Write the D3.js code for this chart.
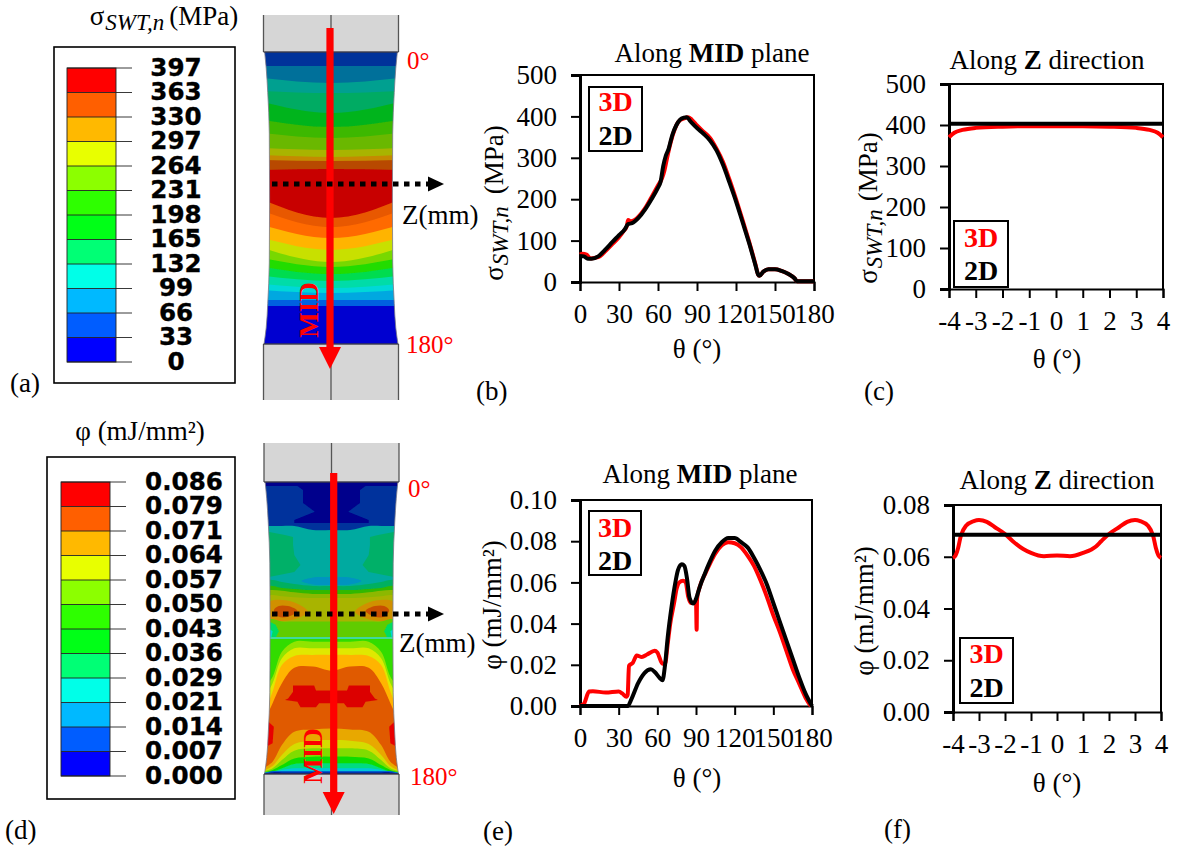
<!DOCTYPE html>
<html><head><meta charset="utf-8">
<script src="https://cdn.jsdelivr.net/npm/d3@7"></script>
<style>html,body{margin:0;padding:0;background:#fff}svg{display:block}text{font-family:"Liberation Serif",serif}</style>
</head><body><div id="c"></div>
<script>
// ---------- curve data ----------
const midSigma3Dx=[0,2,5,8,14,20,25,30,34,36,37,39,42,45,50,55,60,63,65,67,70,73,76,80,83,86,90,95,100,105,110,115,120,125,130,135,137,138,141,145,150,155,160,165,167,170,180];
const midSigma3Dy=[66,68,66,57,60,76,92,108,125,135,150,147,150,158,178,205,233,250,270,300,340,370,388,395,398,392,378,363,348,322,290,247,200,150,98,42,18,15,25,31,31,27,20,9,2,2,2];
const midSigma2Dx=[0,3,6,9,14,20,25,30,35,36,37,40,45,50,55,60,62,64,66,68,71,74,77,80,82,85,90,95,100,105,110,115,120,125,130,135,137,138,141,145,150,155,160,165,167,170,180];
const midSigma2Dy=[63,62,56,56,62,80,97,113,130,136,140,142,155,175,200,228,242,280,305,320,355,378,392,397,398,388,372,358,342,318,283,240,195,145,95,40,18,15,25,31,31,27,20,9,2,2,2];
const zSigmaX=[-4,-3.8,-3.5,-3,-2,-1,0,1,2,3,3.5,3.8,4];
const zSigma3D=[370,381,388,393,396,397,397,397,396,393,388,381,370];
const zSigma2D=[403,403,403,403,403,403,403,403,403,403,403,403,403];
const midPhi3Dx=[0,3,7,10,20,30,33,36,37,38,41,44,48,52,58,60,64,66,68,70,73,75,77,80,82,84,86,88,90,90.5,90.8,93,97,100,105,110,115,120,125,130,135,140,145,150,155,160,165,170,175,179];
const midPhi3Dy=[0,.001,.007,.0072,.0065,.007,.006,.0045,.0055,.0195,.021,.0245,.0238,.025,.0268,.026,.0205,.0205,.03,.04,.05,.057,.06,.0608,.06,.053,.05,.05,.051,.037,.052,.058,.064,.068,.074,.078,.0795,.079,.077,.073,.068,.061,.053,.044,.036,.027,.018,.011,.004,0];
const midPhi2Dx=[0,35,37,40,45,50,55,58,62,64,66,68,71,74,76,79,81,83,85,88,90,93,97,100,105,110,115,120,125,130,135,140,145,150,155,160,165,170,175,180];
const midPhi2Dy=[0,0,0,.0035,.011,.016,.0178,.0165,.0135,.0125,.02,.033,.048,.06,.066,.0688,.068,.062,.0525,.0497,.052,.058,.0645,.069,.0755,.0795,.0815,.0815,.0795,.077,.072,.066,.059,.05,.041,.032,.023,.014,.006,0];
const zPhiX=[-4,-3.9,-3.8,-3.7,-3.5,-3.2,-3,-2.7,-2.4,-2,-1.7,-1.3,-1,-.5,0,.5,1,1.5,1.7,2,2.4,2.7,3,3.2,3.5,3.7,3.8,3.9,4];
const zPhi3D=[.0595,.0605,.0635,.068,.072,.0738,.0742,.0735,.0715,.0688,.066,.063,.0615,.0602,.0605,.0602,.0615,.064,.066,.0688,.0715,.0735,.0742,.0738,.072,.068,.0635,.0605,.0595];
const zPhi2D=[.0685,.0685,.0685,.0685,.0685,.0685,.0685,.0685,.0685,.0685,.0685,.0685,.0685,.0685,.0685,.0685,.0685,.0685,.0685,.0685,.0685,.0685,.0685,.0685,.0685,.0685,.0685,.0685,.0685];

// ---------- tick labels ----------
const thetaTicks=[0,30,60,90,120,150,180];
const zTicks=[-4,-3,-2,-1,0,1,2,3,4];
const sigmaTicks=[0,100,200,300,400,500];
const phiMidTicks=[0,.02,.04,.06,.08,.1];
const phiZTicks=[0,.02,.04,.06,.08];

// ---------- contour legends ----------
const sigmaLevels=["397","363","330","297","264","231","198","165","132","99","66","33","0"];
const phiLevels=["0.086","0.079","0.071","0.064","0.057","0.050","0.043","0.036","0.029","0.021","0.014","0.007","0.000"];
const legendColors=["#ff0000","#ff5f00","#ffb900","#e8ff00","#8cff00","#2eff00","#00ff17","#00ff75","#00ffe8","#00b9ff","#005dff","#0000ff"];

// ---------- specimen contours, in theta along the gauge, u across it ----------
const gaugeTheta=[0,10,25,50,90,130,155,170,180];
const gaugeWidth=[1.07,1.045,1.02,.995,.99,.995,1.02,1.045,1.08];
const sigmaBandColors=["#00329a","#006f9a","#00a090","#00ab64","#00b41e","#3cb800","#6ab800","#a8b400","#c48a00","#b84800","#c80000","#e85800","#ff6a00","#ffb400","#c8e000","#78d800","#20dc00","#00dc50","#00dca8","#00d8d8","#00a8e0","#0060e0","#0000d0"];
const sigmaBandCentre=[0,8.6,19.1,25.3,37.6,46.2,53,60.4,64.7,67.2,72.1,102.3,108,114.7,122,129.5,132.5,136.9,141.2,145.5,148.6,152.9,156.6];
const sigmaBandEdge=[0,8.6,16,24,30.8,41.9,49.9,59.2,63.5,66.6,72.7,91.2,98,106.6,114.7,120.8,127,132.5,138,143,146.7,152.9,156.6];
const phiGrid=[0,.3,.6,.8,.95,1.1];
const phiContours=[
 ["#00329c","band",[0,0,0,0,0,0]],
 ["#00008c","poly",[[0,0],[1.1,0],[1.1,2.5],[.55,2.5],[.46,5],[.46,13],[.27,18.3],[.6,23.4],[.6,25.3],[0,25.3]]],
 ["#00aaa0","band",[29.6,29.6,27.1,27.1,27.1,27.1]],
 ["#00b068","poly",[[1.1,30.2],[.75,32.7],[.62,33.9],[.62,38.8],[.6,45],[.5,51.2],[.6,55.5],[1.1,59.2]]],
 ["#0094c0","blob",[[0,58.5],[.3,59],[.48,61],[.3,63],[0,63.5],[-.3,63],[-.48,61],[-.3,59]]],
 ["#00b060","band",[64.1,64.1,62.9,61.6,60.4,60.4]],
 ["#30b800","band",[66.6,66.6,65.9,65.3,64.1,64.1]],
 ["#8cb800","band",[69,69,68,67,66.6,66.6]],
 ["#a8b400","band",[71.5,71.5,71,70.5,69.7,69.7]],
 ["#d09000","blob",[[.38,80],[.55,75],[.8,72.7],[1,74],[1,84],[.8,85.7],[.55,84]]],
 ["#c85000","blob",[[.55,79.5],[.7,76.5],[.85,76.4],[.93,79],[.85,83],[.7,83]]],
 ["#60cc00","band",[86,86,86,86,84.5,84.5]],
 ["#00dc60","poly",[[1.1,84],[.9,88],[.85,92],[.9,96],[1.1,96]]],
 ["#00d8d8","poly",[[1.1,88],[.95,92],[.97,96],[1.1,96]]],
 ["#40d8a0","band",[95.5,95.5,95.5,95.5,95.5,95.5]],
 ["#30dc00","band",[96.8,96.8,96.8,96.8,96.8,96.8]],
 ["#90e400","band",[98.4,98.4,98.4,104.6,120,128]],
 ["#e0e800","band",[102.5,102.5,102.5,108.7,124,134]],
 ["#ffb400","band",[106.6,106.6,107.3,112.8,129.2,144.7]],
 ["#e05a00","band",[116.3,113.8,114.5,124.1,136.4,148.8]],
 ["#dc0000","poly",[[0,128.6],[.25,128.6],[.28,125.5],[.62,125.5],[.62,129.3],[.7,133.4],[.75,134.4],[.55,135.4],[.5,138.9],[.25,138.9],[.2,136.4],[0,136.4]]],
 ["#e80000","poly",[[1.1,144.7],[.93,150.8],[.95,161],[1.1,164.2]]],
 ["#e8a800","band",[151.9,152.5,153.9,162.1,172.4,176.5]],
 ["#d4dc00","band",[159.1,159.5,161.5,168.3,175.1,178]],
 ["#80dc00","band",[164.2,164.2,165.6,171.4,176.5,178.6]],
 ["#10dc00","band",[169.3,169.3,170.4,174.5,177.5,179]],
 ["#00dc80","band",[173.4,173.4,173.8,176.5,178.6,179.2]],
 ["#00c8d8","band",[176.5,176.5,176.5,177.5,178.8,179.4]],
 ["#0060d0","band",[178.2,178.2,178.2,178.2,178.2,179.6]],
 ["#000a8c","band",[179,179,179,179,179,179.6]]
];

// ---------- drawing ----------
const svg=d3.select("#c").append("svg").attr("width",1180).attr("height",850);
const defs=svg.append("defs");
defs.append("filter").attr("id","soft").append("feGaussianBlur").attr("stdDeviation",.45);
const RED="#ff0000";
const FS=27;

function label(t,x,y,o={}){
  return svg.append("text").attr("x",x).attr("y",y)
   .attr("font-size",o.size||FS).attr("fill",o.fill||"#000")
   .attr("text-anchor",o.anchor||"start").attr("font-weight",o.weight||"normal").text(t);
}
function rich(parts,x,y,o={}){
  const t=svg.append("text").attr("font-size",o.size||FS).attr("fill","#000").attr("text-anchor",o.anchor||"middle");
  t.attr("transform",`translate(${x},${y})${o.rot?` rotate(${o.rot})`:""}`);
  parts.forEach(p=>{
    const s=t.append("tspan").text(p.t);
    if(p.b)s.attr("font-weight","bold");
    if(p.i)s.attr("font-style","italic");
    if(p.s)s.attr("font-size",p.s);
    if(p.dy)s.attr("dy",p.dy);
    if(p.dx)s.attr("dx",p.dx);
  });
  return t;
}
const sigmaText=(gap)=>[{t:"σ"},{t:"SWT,n",i:1,s:23,dy:5,dx:1},{t:"(MPa)",dy:-5,dx:gap}];
const phiText=[{t:"φ "},{t:"(mJ/mm²)"}];
const plainInt=d=>String(d).replace("\u2212","-");

function plot(c){
  const x=d3.scaleLinear().domain(c.xd).range([c.l,c.r]);
  const y=d3.scaleLinear().domain(c.yd).range([c.b,c.t]);
  const ax=svg.append("g").attr("transform",`translate(0,${c.b})`).call(d3.axisBottom(x).tickValues(c.xt).tickSize(9).tickPadding(13).tickFormat(plainInt));
  const ay=svg.append("g").attr("transform",`translate(${c.l},0)`).call(d3.axisLeft(y).tickValues(c.yt).tickSize(9).tickPadding(14).tickFormat(c.yf));
  [ax,ay].forEach(g=>{g.selectAll("line").attr("stroke","#000").attr("stroke-width",2);
    g.select(".domain").attr("stroke","#000").attr("stroke-width",2);
    g.selectAll("text").attr("font-family","Liberation Serif").attr("font-size",FS).attr("fill","#000");});
  ay.select(".domain").attr("stroke-width",3);
  svg.append("path").attr("d",`M${c.l},${c.t}H${c.r}V${c.b}`).attr("fill","none").attr("stroke","#000").attr("stroke-width",2);
  const line=d3.line().x(d=>x(d[0])).y(d=>y(d[1])).curve(d3.curveMonotoneX);
  svg.append("path").attr("d",line(d3.zip(c.x3,c.y3))).attr("fill","none").attr("stroke",RED).attr("stroke-width",4);
  svg.append("path").attr("d",line(d3.zip(c.x2,c.y2))).attr("fill","none").attr("stroke","#000").attr("stroke-width",4);
  svg.append("rect").attr("x",c.box[0]).attr("y",c.box[1]).attr("width",c.box[2]).attr("height",c.box[3]).attr("fill","#fff").attr("stroke","#000").attr("stroke-width",2);
  const cx=c.box[0]+c.box[2]/2;
  label("3D",cx,c.ly[0],{size:28,weight:"bold",fill:RED,anchor:"middle"});
  label("2D",cx,c.ly[1],{size:28,weight:"bold",anchor:"middle"});
}
plot({l:580,r:814,t:75,b:282,xd:[0,180],yd:[0,500],xt:thetaTicks,yt:sigmaTicks,yf:d3.format("d"),x3:midSigma3Dx,y3:midSigma3Dy,x2:midSigma2Dx,y2:midSigma2Dy,box:[589,87,53,64],ly:[111,145]});
plot({l:949,r:1163,t:84,b:289,xd:[-4,4],yd:[0,500],xt:zTicks,yt:sigmaTicks,yf:d3.format("d"),x3:zSigmaX,y3:zSigma3D,x2:zSigmaX,y2:zSigma2D,box:[954,221,54,66],ly:[247,280]});
plot({l:580,r:812,t:500,b:706,xd:[0,180],yd:[0,.1],xt:thetaTicks,yt:phiMidTicks,yf:d3.format(".2f"),x3:midPhi3Dx,y3:midPhi3Dy,x2:midPhi2Dx,y2:midPhi2Dy,box:[589,511,52,64],ly:[537,570]});
plot({l:953,r:1161,t:505,b:712,xd:[-4,4],yd:[0,.08],xt:zTicks,yt:phiZTicks,yf:d3.format(".2f"),x3:zPhiX,y3:zPhi3D,x2:zPhiX,y2:zPhi2D,box:[960,638,53,65],ly:[663,697]});

// titles
const midTitle=[{t:"Along "},{t:"MID",b:1},{t:" plane"}], zTitle=[{t:"Along "},{t:"Z",b:1},{t:" direction"}];
rich(midTitle,712,62);rich(midTitle,700,483);rich(zTitle,1047,69);rich(zTitle,1057,489);
[[697,358],[697,787],[1057,368],[1057,792]].forEach(p=>rich([{t:"θ (°)"}],p[0],p[1]));
rich(sigmaText(12),503,203,{rot:-90});
rich(sigmaText(8),877,208,{rot:-90});
rich(phiText,501,605,{rot:-90});
rich(phiText,873,611,{rot:-90});
[["(a)",10,392],["(b)",476,400],["(c)",864,400],["(d)",5,839],["(e)",483,840],["(f)",884,838]].forEach(d=>label(d[0],d[1],d[2]));
rich(sigmaText(5),164,25);
rich(phiText,140,440);

// contour legends
function legend(levels,box,sw,tx){
  svg.append("rect").attr("x",box[0]).attr("y",box[1]).attr("width",box[2]).attr("height",box[3]).attr("fill","#fff").attr("stroke","#000").attr("stroke-width",1.6);
  const y=d3.scalePoint().domain(levels).range([sw[1],sw[2]]);
  const step=y.step();
  svg.append("g").selectAll("rect").data(legendColors).join("rect")
    .attr("x",sw[0]).attr("width",49).attr("y",(d,i)=>y(levels[i])).attr("height",step).attr("fill",d=>d);
  svg.append("g").selectAll("line").data(levels).join("line")
    .attr("x1",sw[0]).attr("x2",sw[0]+65).attr("y1",d=>y(d)).attr("y2",d=>y(d)).attr("stroke","#222").attr("stroke-width",.9);
  svg.append("rect").attr("x",sw[0]).attr("y",sw[1]).attr("width",49).attr("height",sw[2]-sw[1]).attr("fill","none").attr("stroke","#222").attr("stroke-width",.9);
  svg.append("g").selectAll("text").data(levels).join("text")
    .attr("x",tx).attr("y",d=>y(d)+7.5).attr("text-anchor","middle").attr("font-size",24.6).attr("font-weight","bold")
    .style("font-family","DejaVu Sans").attr("fill","#000").attr("stroke","#000").attr("stroke-width",.35).text(d=>d);
}
legend(sigmaLevels,[54,47,181,336],[67,68,362],176);
legend(phiLevels,[47,457,188,342],[61,482,776],184);

// specimens
function specimen(s){
  const y=d3.scaleLinear().domain([0,180]).range([s.y0,s.y1]);
  const u=d3.scaleLinear().domain([-1,1]).range([s.cx-s.half,s.cx+s.half]);
  const id="clip"+s.id;
  const side=d3.line().curve(d3.curveMonotoneY);
  const rightEdge=gaugeTheta.map((t,i)=>[u(gaugeWidth[i]),y(t)]);
  const leftEdge=gaugeTheta.map((t,i)=>[u(-gaugeWidth[i]),y(t)]).reverse();
  const outline=side(rightEdge)+"L"+side(leftEdge).slice(1)+"Z";
  defs.append("clipPath").attr("id",id).append("path").attr("d",outline);
  [[s.g0,s.y0],[s.y1,s.g1]].forEach(r=>{
    svg.append("rect").attr("x",s.cx-s.grip).attr("y",r[0]).attr("width",2*s.grip).attr("height",r[1]-r[0]).attr("fill","#d6d6d6");
    [s.cx-s.grip,s.cx,s.cx+s.grip].forEach(x=>svg.append("line").attr("x1",x).attr("x2",x).attr("y1",r[0]).attr("y2",r[1]).attr("stroke","#555").attr("stroke-width",1.3));
  });
  const g=svg.append("g").attr("clip-path",`url(#${id})`).append("g").attr("filter","url(#soft)");
  s.draw(g,y,u);
  svg.append("path").attr("d",outline).attr("fill","none").attr("stroke","#778").attr("stroke-width",.8);
  [s.y0,s.y1].forEach(v=>svg.append("line").attr("x1",s.cx-s.grip).attr("x2",s.cx+s.grip).attr("y1",v).attr("y2",v).attr("stroke","#223").attr("stroke-width",1.2));
  svg.append("rect").attr("x",s.ax-3.6).attr("y",s.a0).attr("width",7.2).attr("height",s.a1-s.a0).attr("fill",RED);
  svg.append("path").attr("d",d3.line()([[s.ax-11,s.a1],[s.ax+11,s.a1],[s.ax,s.a2]])+"Z").attr("fill",RED);
  rich([{t:"MID",b:1}],s.mid[0],s.mid[1],{rot:-90,size:27}).attr("fill",RED);
  svg.append("line").attr("x1",272).attr("x2",428).attr("y1",s.zy).attr("y2",s.zy).attr("stroke","#000").attr("stroke-width",5).attr("stroke-dasharray","5.5 5.5");
  svg.append("path").attr("d",d3.line()([[428,s.zy-7.5],[444,s.zy],[428,s.zy+7.5]])+"Z").attr("fill","#000");
  label("Z(mm)",s.zt[0],s.zt[1]);
  label("0°",s.t0[0],s.t0[1],{size:25,fill:RED});
  label("180°",s.t1[0],s.t1[1],{size:25,fill:RED});
}
specimen({id:"a",cx:331,half:62,grip:67.5,y0:52,y1:344,g0:15,g1:400,ax:330,a0:28,a1:347,a2:369,mid:[318,310],zy:184,zt:[402,224],t0:[407,69],t1:[406,353],
 draw(g,y,u){
  const l=d3.line().curve(d3.curveNatural);
  sigmaBandColors.forEach((c,i)=>{
    const pts=[[u(-1.1),y(sigmaBandEdge[i])],[u(0),y(sigmaBandCentre[i])],[u(1.1),y(sigmaBandEdge[i])]];
    g.append("path").attr("d",l(pts)+`L${u(1.1)},${y(180)}L${u(-1.1)},${y(180)}Z`).attr("fill",c);
  });
 }});
specimen({id:"d",cx:331.5,half:62,grip:67.5,y0:482,y1:774,g0:443,g1:815,ax:333.7,a0:473,a1:792,a2:814,mid:[322,756],zy:614,zt:[399,652],t0:[408,497],t1:[410,785],
 draw(g,y,u){
  const lin=d3.line();
  const smooth=d3.line().curve(d3.curveCatmullRom.alpha(.5));
  const closed=d3.line().curve(d3.curveCatmullRomClosed.alpha(.5));
  phiContours.forEach(([c,kind,v])=>{
    if(kind==="band"){
      const right=phiGrid.map((k,i)=>[u(k),y(v[i])]);
      const left=phiGrid.slice(1).map((k,i)=>[u(-k),y(v[i+1])]).reverse();
      g.append("path").attr("d",smooth(left.concat(right))+`L${u(1.1)},${y(180)}L${u(-1.1)},${y(180)}Z`).attr("fill",c);
    } else {
      const gen=kind==="blob"?closed:lin;
      [-1,1].forEach(sgn=>g.append("path").attr("d",gen(v.map(p=>[u(sgn*p[0]),y(p[1])]))+(kind==="blob"?"":"Z")).attr("fill",c));
    }
  });
 }});
</script></body></html>
